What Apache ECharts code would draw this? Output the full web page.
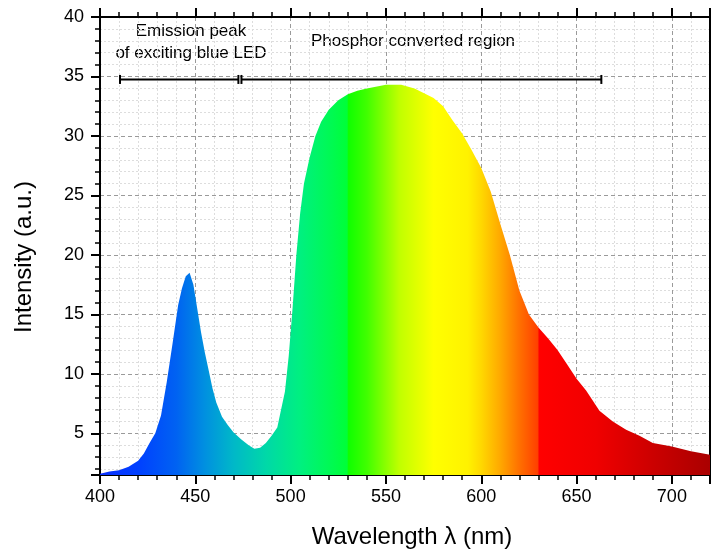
<!DOCTYPE html>
<html>
<head>
<meta charset="utf-8">
<script src="https://cdn.jsdelivr.net/npm/echarts@6/dist/echarts.min.js"></script>
<style>html,body{margin:0;padding:0;background:#fff}#c{width:711px;height:554px}</style>
</head>
<body>
<div id="c"></div>
<script>
// ---- data ----
const wavelength = [400,405,410,415,420,423,426,429,432,435,438,441,443,445,447,449,451,453,455,457,459,461,464,467,470,474,478,481,484,487,490,493,495,497,499,501,503,505,507,510,513,516,520,525,530,535,540,550,558,565,570,575,580,585,590,595,600,605,610,615,620,625,630,635,640,645,650,655,662,669,676,683,690,700,710,720];
const intensity  = [1.6,1.8,1.9,2.2,2.7,3.3,4.2,5.0,6.5,9.3,12.5,15.8,17.2,18.2,18.5,17.5,15.5,13.5,11.8,10.3,8.8,7.6,6.4,5.7,5.1,4.5,4.0,3.7,3.8,4.2,4.8,5.5,7.0,8.5,11.5,15.5,20.0,23.5,26.0,28.2,30.0,31.2,32.2,33.0,33.5,33.8,34.0,34.3,34.3,34.0,33.6,33.2,32.5,31.3,30.2,28.8,27.3,25.3,22.6,20.0,17.0,15.0,13.9,13.0,12.0,10.8,9.6,8.6,6.9,6.0,5.3,4.8,4.2,3.9,3.5,3.2];
const xTickLabels = [400,450,500,550,600,650,700];
const yTickLabels = [5,10,15,20,25,30,35,40];
const bracketLevel = 34.75;
const bracketBlue = [410.5, 472.6];
const bracketPhosphor = [474.2, 663.0];
const annBlue = ['Emission peak', 'of exciting blue LED'];
const annPhosphor = 'Phosphor converted region';

// spectrum colour stops (wavelength, colour)
const specWl  = [400,420,440,455,470,487,505,522,529.6,530.4,540,557,575,593,600,610,620,629.6,630.4,660,690,720];
const specCol = ['#0a30ff','#0040ff','#0062f2','#0090e0','#00b8c8','#00d8a8','#00f080','#00fa50','#00ff38','#10ff00','#40ff00','#c0ff00','#ffff00','#fff200','#ffd800','#ffa800','#ff7000','#ff4000','#ff0000','#f00000','#cc0000','#aa0000'];

const FONT = 'Liberation Sans, Arial, sans-serif';
const series = wavelength.map((w, i) => [w, intensity[i]]);
const stops = specWl.map((w, i) => ({offset: (w - 400) / 320, color: specCol[i]}));

const chart = echarts.init(document.getElementById('c'), null, {renderer: 'canvas'});

const majorSplit = {show: true, lineStyle: {color: '#9a9a9a', width: 1, type: [4, 3]}};
const minorSplit = {show: true, lineStyle: {color: '#dddddd', width: 1, type: [2, 2]}};
const axisLine = {show: true, onZero: false, lineStyle: {color: '#000', width: 2}};
const majorTick = {show: true, inside: false, length: 9, lineStyle: {color: '#000', width: 2}};
const minorTick = {show: true, splitNumber: 5, length: 5, lineStyle: {color: '#000', width: 1.5}};

chart.setOption({
  animation: false,
  backgroundColor: '#fff',
  grid: {left: 100, top: 17, right: 1, bottom: 78, containLabel: false},
  xAxis: [{
    type: 'value', min: 400, max: 720, interval: 50, position: 'bottom',
    axisLine: axisLine, axisTick: majorTick, minorTick: minorTick,
    splitLine: majorSplit, minorSplitLine: minorSplit,
    axisLabel: {show: true, margin: 13, fontSize: 18, color: '#000', fontFamily: FONT,
      customValues: xTickLabels},
    name: 'Wavelength λ (nm)', nameLocation: 'middle', nameGap: 50,
    nameTextStyle: {fontSize: 24, color: '#000', fontFamily: FONT, padding: [0, 0, 0, 14]}
  }, {
    type: 'value', min: 400, max: 720, interval: 50, position: 'top',
    axisLine: axisLine, axisTick: majorTick, minorTick: minorTick,
    splitLine: {show: false}, axisLabel: {show: false}
  }],
  yAxis: [{
    type: 'value', min: 1.5, max: 40, splitNumber: 8, position: 'left',
    axisLine: axisLine, axisTick: majorTick, minorTick: minorTick,
    splitLine: majorSplit, minorSplitLine: minorSplit,
    axisLabel: {show: true, margin: 16, fontSize: 18, color: '#000', fontFamily: FONT,
      customValues: yTickLabels},
    name: 'Intensity (a.u.)', nameLocation: 'middle', nameGap: 64, nameRotate: 90,
    nameTextStyle: {fontSize: 24, color: '#000', fontFamily: FONT, padding: [0, 22, 0, 0]}
  }, {
    type: 'value', min: 1.5, max: 40, splitNumber: 8, position: 'right',
    axisLine: axisLine, axisTick: {show: false}, splitLine: {show: false}, axisLabel: {show: false}
  }],
  series: [{
    type: 'line', data: series, xAxisIndex: 0, yAxisIndex: 0,
    showSymbol: false, symbol: 'none', smooth: false,
    lineStyle: {width: 0},
    areaStyle: {opacity: 1, color: new echarts.graphic.LinearGradient(0, 0, 1, 0, stops)},
    z: 3
  }, {
    type: 'line', data: bracketBlue.map(w => [w, bracketLevel]),
    symbol: 'rect', symbolSize: [2, 9], showSymbol: true,
    itemStyle: {color: '#000'}, lineStyle: {color: '#000', width: 2}, z: 5, silent: true
  }, {
    type: 'line', data: bracketPhosphor.map(w => [w, bracketLevel]),
    symbol: 'rect', symbolSize: [2, 9], showSymbol: true,
    itemStyle: {color: '#000'}, lineStyle: {color: '#000', width: 2}, z: 5, silent: true
  }],
  graphic: [
    {type: 'text', x: 191, y: 31, style: {text: annBlue[0], font: '17px ' + FONT, fill: '#000', textAlign: 'center', textVerticalAlign: 'middle'}},
    {type: 'text', x: 191, y: 53, style: {text: annBlue[1], font: '17px ' + FONT, fill: '#000', textAlign: 'center', textVerticalAlign: 'middle'}},
    {type: 'text', x: 413, y: 41, style: {text: annPhosphor, font: '17px ' + FONT, fill: '#000', textAlign: 'center', textVerticalAlign: 'middle'}}
  ]
});
</script>
</body>
</html>
